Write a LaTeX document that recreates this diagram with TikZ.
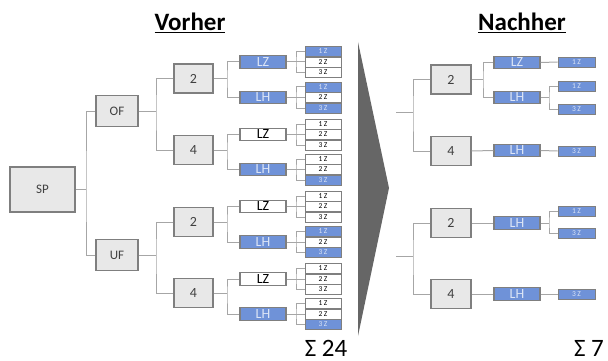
\documentclass[tikz,border=0pt]{standalone}
\usepackage{fontspec}
\setmainfont{Carlito}
\definecolor{linegray}{HTML}{A6A6A6}
\definecolor{bordergray}{HTML}{7F7F7F}
\definecolor{boxgray}{HTML}{E8E8E8}
\definecolor{myblue}{HTML}{6F92D8}
\definecolor{lighttext}{HTML}{DCE5F6}
\definecolor{textdark}{HTML}{404040}
\definecolor{trigray}{HTML}{666666}
\begin{document}
\begin{tikzpicture}[x=1pt,y=-1pt,
  conn/.style={draw=linegray, line width=1pt},
  base/.style={draw=bordergray, line width=1.2pt, inner sep=0pt, align=center},
  gbox/.style={base, fill=boxgray, text=textdark},
  midbox/.style={gbox, minimum width=39pt, minimum height=29pt, font=\fontsize{14}{14}\selectfont},
  fbox/.style={gbox, minimum width=42pt, minimum height=31pt, font=\fontsize{13}{13}\selectfont},
  lbox/.style={base, minimum width=46pt, minimum height=12.5pt, font=\fontsize{14}{14}\selectfont},
  lblue/.style={lbox, fill=myblue, text=lighttext},
  lwhite/.style={lbox, fill=white, text=black},
  leaf/.style={base, line width=0.9pt, minimum width=36pt, minimum height=10pt, font=\fontsize{7.5}{7.5}\selectfont},
  leafB/.style={leaf, fill=myblue, text=lighttext},
  leafW/.style={leaf, fill=white, text=black},
  title/.style={font=\fontsize{25}{25}\selectfont\bfseries},
  sum/.style={font=\fontsize{25}{25}\selectfont}
]
\useasboundingbox (0,0) rectangle (608,361);

% ---------- Vorher ----------
\node[title] (tV) at (190,23) {\underline{Vorher}};

\node[gbox, minimum width=65pt, minimum height=45pt, font=\fontsize{13}{13}\selectfont] (SP) at (42.5,189.5) {SP};
\node[fbox] (OF) at (117,111) {OF};
\node[fbox] (UF) at (117,255) {UF};

\node[midbox] (A2) at (193.5,78.5) {2};
\node[midbox] (A4) at (193.5,150) {4};
\node[midbox] (B2) at (193.5,222) {2};
\node[midbox] (B4) at (193.5,293) {4};

\foreach \n/\y/\s/\t in {V1/62/lblue/LZ, V2/97.5/lblue/LH, V3/134.5/lwhite/LZ, V4/169.5/lblue/LH,
                         V5/206.5/lwhite/LZ, V6/242/lblue/LH, V7/279/lwhite/LZ, V8/314/lblue/LH}{
  \node[\s] (\n) at (263,\y) {\t};
}

% connectors level 0-2
\coordinate (jSP) at (86,189.5);
\draw[conn] (SP.east) -- (jSP);
\draw[conn] (OF.west) -| (jSP) |- (UF.west);
\coordinate (jOF) at (156,111);
\draw[conn] (OF.east) -- (jOF);
\draw[conn] (A2.west) -| (jOF) |- (A4.west);
\coordinate (jUF) at (156,255);
\draw[conn] (UF.east) -- (jUF);
\draw[conn] (B2.west) -| (jUF) |- (B4.west);

\foreach \p/\u/\l/\y in {A2/V1/V2/78.5, A4/V3/V4/150, B2/V5/V6/222, B4/V7/V8/293}{
  \coordinate (j\p) at (227,\y);
  \draw[conn] (\p.east) -- (j\p);
  \draw[conn] (\u.west) -| (j\p) |- (\l.west);
}

% leaves
\foreach \n/\y/\a/\b/\c in {V1/62/leafB/leafW/leafW, V2/97.5/leafB/leafW/leafB,
                            V3/134.5/leafW/leafW/leafW, V4/169.5/leafW/leafW/leafB,
                            V5/206.5/leafW/leafW/leafW, V6/242/leafB/leafW/leafB,
                            V7/279/leafW/leafW/leafW, V8/314/leafW/leafW/leafB}{
  \coordinate (j\n) at (296,\y);
  \draw[conn] (\n.east) -- (j\n);
  \node[\a] (\n a) at (323,{\y-10.5}) {1\,Z};
  \node[\b] (\n b) at (323,\y) {2\,Z};
  \node[\c] (\n c) at (323,{\y+10.5}) {3\,Z};
  \draw[conn] (\n a.west) -| (j\n) |- (\n c.west);
  \draw[conn] (j\n) -- (\n b.west);
}

\node[sum] (s24) at (326,348) {Σ 24};

% ---------- arrow ----------
\fill[trigray] (358,42) -- (389,188) -- (358,336) -- cycle;

% ---------- Nachher ----------
\node[title] (tN) at (522,23) {\underline{Nachher}};

\node[midbox, minimum width=40pt] (C2) at (451,79.5) {2};
\node[midbox, minimum width=40pt] (C4) at (451,151) {4};
\node[midbox, minimum width=40pt] (D2) at (451,223) {2};
\node[midbox, minimum width=40pt] (D4) at (451,294) {4};

\coordinate (sC) at (396,112);
\coordinate (jC) at (413,112);
\draw[conn] (sC) -- (jC);
\draw[conn] (C2.west) -| (jC) |- (C4.west);
\coordinate (sD) at (396,256);
\coordinate (jD) at (413,256);
\draw[conn] (sD) -- (jD);
\draw[conn] (D2.west) -| (jD) |- (D4.west);

\node[lblue] (CLZ) at (517,62.5) {LZ};
\node[lblue] (CLH) at (517,97.5) {LH};
\node[lblue] (C4LH) at (517,150.5) {LH};
\node[lblue] (DLH) at (517,223) {LH};
\node[lblue] (D4LH) at (517,294) {LH};

\coordinate (jC2) at (483,79.5);
\draw[conn] (C2.east) -- (jC2);
\draw[conn] (CLZ.west) -| (jC2) |- (CLH.west);
\draw[conn] (C4.east) -- (C4LH.west);
\draw[conn] (D2.east) -- (DLH.west);
\draw[conn] (D4.east) -- (D4LH.west);

\tikzset{nleaf/.style={leafB, minimum width=37pt}}
\node[nleaf] (n1) at (576.5,62) {1\,Z};
\node[nleaf] (n2) at (576.5,86.5) {1\,Z};
\node[nleaf] (n3) at (576.5,109.5) {3\,Z};
\node[nleaf] (n4) at (576.5,151) {3\,Z};
\node[nleaf] (n5) at (576.5,211.5) {1\,Z};
\node[nleaf] (n6) at (576.5,233.5) {3\,Z};
\node[nleaf] (n7) at (576.5,294) {3\,Z};

\draw[conn] (CLZ.east) -- (n1.west);
\coordinate (jCLH) at (549,97.5);
\draw[conn] (CLH.east) -- (jCLH);
\draw[conn] (n2.west) -| (jCLH) |- (n3.west);
\draw[conn] (C4LH.east) -- (n4.west);
\coordinate (jDLH) at (549,223);
\draw[conn] (DLH.east) -- (jDLH);
\draw[conn] (n5.west) -| (jDLH) |- (n6.west);
\draw[conn] (D4LH.east) -- (n7.west);

\node[sum] (s7) at (589,348) {Σ 7};
\end{tikzpicture}
\end{document}
